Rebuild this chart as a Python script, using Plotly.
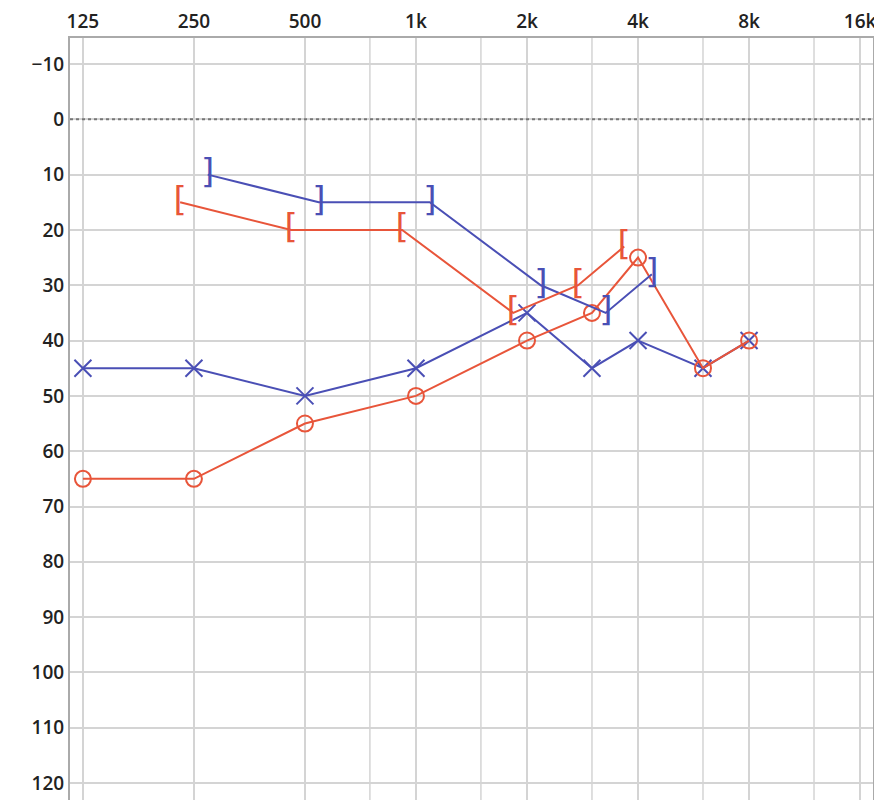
import numpy as np
import plotly.graph_objects as go

freqs = [125, 250, 500, 1000, 2000, 3000, 4000, 6000, 8000]
left_air = [45, 45, 50, 45, 35, 45, 40, 45, 40]
right_air = [65, 65, 55, 50, 40, 35, 25, 45, 40]

bone_freqs = [250, 500, 1000, 2000, 3000, 4000]
left_bone = [10, 15, 15, 30, 35, 28]
right_bone = [15, 20, 20, 35, 30, 23]

tick_vals = [125, 250, 500, 1000, 2000, 4000, 8000, 16000]
tick_text = ["125", "250", "500", "1k", "2k", "4k", "8k", "16k"]
minor_vals = [750, 1500, 3000, 6000, 12000]

BLUE = "#4a4fb5"
RED = "#e8553a"

fig = go.Figure()

fig.add_trace(go.Scatter(x=freqs, y=left_air, mode="lines+markers",
                         line=dict(color=BLUE, width=2),
                         marker=dict(symbol="x-thin-open", size=17, line=dict(color=BLUE, width=2))))
fig.add_trace(go.Scatter(x=freqs, y=right_air, mode="lines+markers",
                         line=dict(color=RED, width=2),
                         marker=dict(symbol="circle-open", size=16, color=RED, line=dict(width=2))))

# bone conduction brackets, offset left/right of the frequency
fig.add_trace(go.Scatter(x=np.array(bone_freqs) * 1.09, y=left_bone, mode="lines+text",
                         text=["]"] * len(bone_freqs), textposition="middle center",
                         textfont=dict(color=BLUE, size=34, family="DejaVu Sans"),
                         line=dict(color=BLUE, width=2)))
fig.add_trace(go.Scatter(x=np.array(bone_freqs) / 1.09, y=right_bone, mode="lines+text",
                         text=["["] * len(bone_freqs), textposition="middle center",
                         textfont=dict(color=RED, size=34, family="DejaVu Sans"),
                         line=dict(color=RED, width=2)))

for f in minor_vals:
    fig.add_vline(x=f, line=dict(color="#d4d4d4", width=1.5), layer="below")

fig.add_hline(y=0, line=dict(color="#777", width=2, dash="dot"))

tick_font = dict(size=19, color="#222", family="Open Sans", weight=600)

fig.update_xaxes(type="log", side="top", automargin=False,
                 range=[np.log10(125) - 0.035, np.log10(16000) + 0.035],
                 tickvals=tick_vals, ticktext=tick_text,
                 showgrid=True, gridcolor="#d4d4d4", gridwidth=1.5,
                 showline=True, linecolor="#aaa", linewidth=2, mirror=True,
                 tickfont=tick_font, ticks="")
fig.update_yaxes(range=[123.6, -14.7], tickvals=list(range(-10, 121, 10)), automargin=False,
                 showgrid=True, gridcolor="#d4d4d4", gridwidth=1.5, zeroline=False,
                 showline=True, linecolor="#aaa", linewidth=2, mirror=True,
                 tickfont=tick_font, ticks="")

fig.update_layout(width=882, height=800, showlegend=False,
                  plot_bgcolor="white", paper_bgcolor="white",
                  margin=dict(l=62, r=17, t=30, b=5))

fig.write_html("out.html")
